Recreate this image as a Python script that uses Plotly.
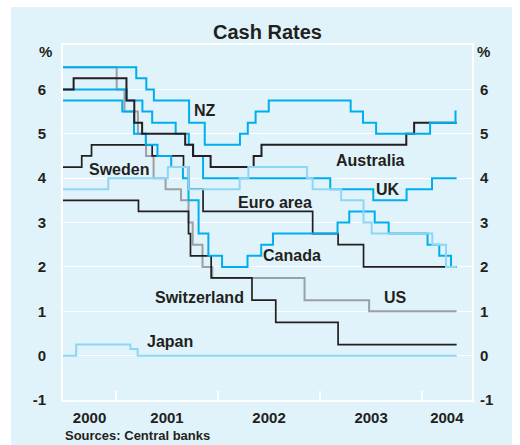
import plotly.graph_objects as go

START = "2000-06-25"
END = "2004-05-03"

# ---- data (policy cash rates, % ; step changes) ----
aus_dates = [START, "2000-08-02", "2001-02-07", "2001-03-07", "2001-04-04", "2001-09-05",
             "2001-10-03", "2001-12-05", "2002-05-08", "2002-06-05", "2003-11-05", "2003-12-03", END]
aus_vals = [6.0, 6.25, 5.75, 5.25, 5.0, 4.75, 4.5, 4.25, 4.5, 4.75, 5.0, 5.25, 5.25]

nz_dates = [START, "2001-03-14", "2001-04-19", "2001-05-16", "2001-09-19", "2001-11-14",
            "2002-03-20", "2002-04-17", "2002-05-15", "2002-07-01", "2003-04-20", "2003-06-03",
            "2003-07-20", "2004-01-29", "2004-04-29", END]
nz_vals = [6.5, 6.25, 6.0, 5.75, 5.25, 4.75, 5.0, 5.25, 5.5, 5.75, 5.5, 5.25, 5.0, 5.25, 5.5, 5.5]

uk_dates = [START, "2001-02-08", "2001-04-05", "2001-05-10", "2001-08-02", "2001-09-18",
            "2001-10-04", "2001-11-08", "2003-02-06", "2003-07-10", "2003-11-06", "2004-02-05", END]
uk_vals = [6.0, 5.75, 5.5, 5.25, 5.0, 4.75, 4.5, 4.0, 3.75, 3.5, 3.75, 4.0, 4.0]

can_dates = [START, "2001-01-23", "2001-03-06", "2001-04-17", "2001-05-29", "2001-07-17",
             "2001-08-28", "2001-09-17", "2001-10-23", "2001-11-27", "2002-01-15", "2002-04-16",
             "2002-06-04", "2002-07-16", "2003-03-04", "2003-04-15", "2003-07-15", "2003-09-03",
             "2004-01-20", "2004-03-02", "2004-04-13", END]
can_vals = [5.75, 5.5, 5.0, 4.75, 4.5, 4.25, 4.0, 3.5, 2.75, 2.25, 2.0, 2.25, 2.5, 2.75,
            3.0, 3.25, 3.0, 2.75, 2.5, 2.25, 2.0, 2.0]

us_dates = [START, "2001-01-03", "2001-01-31", "2001-03-20", "2001-04-18", "2001-05-15",
            "2001-06-27", "2001-08-21", "2001-09-17", "2001-10-02", "2001-11-06", "2001-12-11",
            "2002-11-06", "2003-06-25", END]
us_vals = [6.5, 6.0, 5.5, 5.0, 4.5, 4.0, 3.75, 3.5, 3.0, 2.5, 2.0, 1.75, 1.25, 1.0, 1.0]

euro_dates = [START, "2000-08-31", "2000-10-05", "2001-05-10", "2001-08-30", "2001-09-17",
              "2001-11-08", "2002-12-05", "2003-03-06", "2003-06-05", END]
euro_vals = [4.25, 4.5, 4.75, 4.5, 4.25, 3.75, 3.25, 2.75, 2.5, 2.0, 2.0]

swi_dates = [START, "2001-03-22", "2001-09-17", "2001-09-24", "2001-12-07", "2002-05-02",
             "2002-07-26", "2003-03-06", END]
swi_vals = [3.5, 3.25, 2.75, 2.25, 1.75, 1.25, 0.75, 0.25, 0.25]

swe_dates = [START, "2000-12-04", "2001-07-05", "2001-09-17", "2002-03-19", "2002-04-19",
             "2002-11-15", "2002-12-05", "2003-03-17", "2003-06-05", "2003-07-04",
             "2004-02-06", "2004-03-26", END]
swe_vals = [3.75, 4.0, 4.25, 3.75, 4.0, 4.25, 4.0, 3.75, 3.5, 3.0, 2.75, 2.5, 2.0, 2.0]

jap_dates = [START, "2000-08-11", "2001-02-21", "2001-03-19", END]
jap_vals = [0.0, 0.25, 0.15, 0.0, 0.0]

year_label_pos = ["2000-09-28", "2001-07-02", "2002-07-02", "2003-07-02", "2004-03-29"]
year_labels = ["2000", "2001", "2002", "2003", "2004"]
year_bounds = ["2001-01-01", "2002-01-01", "2003-01-01", "2004-01-01"]
y_ticks = [-1, 0, 1, 2, 3, 4, 5, 6]
y_ticktext = ["-1", "0", "1", "2", "3", "4", "5", "6"]

# ---- styling ----
BLUE = "#00AEEF"
LBLUE = "#8ED6F5"
GREY = "#9AA0A6"
BLACK = "#231F20"
BG = "#E1F3FA"
FONT = "Liberation Sans, Arial, Helvetica, sans-serif"

series = [
    ("US", us_dates, us_vals, GREY, 2.0),
    ("Switzerland", swi_dates, swi_vals, BLACK, 1.7),
    ("Euro area", euro_dates, euro_vals, BLACK, 1.7),
    ("Canada", can_dates, can_vals, BLUE, 2.0),
    ("UK", uk_dates, uk_vals, BLUE, 2.0),
    ("Australia", aus_dates, aus_vals, BLACK, 2.0),
    ("NZ", nz_dates, nz_vals, BLUE, 2.0),
    ("Sweden", swe_dates, swe_vals, LBLUE, 2.0),
    ("Japan", jap_dates, jap_vals, LBLUE, 2.0),
]

fig = go.Figure()
for name, d, v, c, w in series:
    fig.add_trace(go.Scatter(x=d, y=v, mode="lines", name=name,
                             line=dict(color=c, width=w, shape="hv"),
                             showlegend=False, hoverinfo="skip"))
# invisible trace for right axis
fig.add_trace(go.Scatter(x=[START], y=[0], yaxis="y2", mode="markers",
                         marker=dict(opacity=0), showlegend=False, hoverinfo="skip"))

labels = [
    ("NZ", "2001-11-15", 5.52),
    ("Australia", "2003-07-01", 4.40),
    ("Sweden", "2001-01-10", 4.20),
    ("UK", "2003-08-31", 3.74),
    ("Euro area", "2002-07-24", 3.46),
    ("Canada", "2002-09-23", 2.25),
    ("Switzerland", "2001-10-27", 1.31),
    ("US", "2003-09-29", 1.30),
    ("Japan", "2001-07-13", 0.32),
]
for t, x, y in labels:
    fig.add_annotation(x=x, y=y, xref="x", yref="y", text=t, showarrow=False,
                       font=dict(family=FONT, size=16, color=BLACK, weight="bold"))

for xp in (-0.042, 1.029):
    fig.add_annotation(x=xp, y=0.983, xref="paper", yref="paper", text="%", showarrow=False,
                       xanchor="center", yanchor="middle",
                       font=dict(family=FONT, size=15, color=BLACK, weight="bold"))

fig.add_annotation(x=0, y=-0.101, xref="paper", yref="paper", xanchor="left", yanchor="middle",
                   text="Sources: Central banks", showarrow=False,
                   font=dict(family=FONT, size=13, color=BLACK, weight="bold"))

# panel background
fig.add_shape(type="rect", xref="paper", yref="paper", x0=-0.127, x1=1.098, y0=-0.15, y1=1.107,
              fillcolor=BG, line=dict(width=0), layer="below")

fig.update_layout(
    width=520, height=445,
    margin=dict(l=63, r=48, t=45, b=45),
    paper_bgcolor="white",
    plot_bgcolor=BG,
    title=dict(text="Cash Rates", x=267.5 / 520, xanchor="center",
               y=1 - 31.7 / 445, yanchor="middle", yref="container",
               font=dict(family=FONT, size=20, color=BLACK, weight="bold")),
    xaxis=dict(type="date", range=[START, "2004-06-27"],
               tickmode="array", tickvals=year_label_pos, ticktext=year_labels,
               ticks="", showgrid=False, zeroline=False, ticklabelstandoff=3,
               showline=True, linecolor="white", linewidth=2, mirror=True,
               tickfont=dict(family=FONT, size=15, color=BLACK, weight="bold"),
               minor=dict(tickmode="array", tickvals=year_bounds, ticks="inside",
                          ticklen=9, tickwidth=2, tickcolor="white", showgrid=False)),
    yaxis=dict(range=[-1, 7], tickmode="array", tickvals=y_ticks, ticktext=y_ticktext,
               showgrid=True, gridcolor="white", gridwidth=1.3, zeroline=False,
               showline=True, linecolor="white", linewidth=2, mirror=True,
               ticks="outside", ticklen=12, tickcolor="rgba(0,0,0,0)",
               tickfont=dict(family=FONT, size=15, color=BLACK, weight="bold")),
    yaxis2=dict(range=[-1, 7], overlaying="y", side="right", tickmode="array",
                tickvals=y_ticks, ticktext=y_ticktext, showgrid=False, zeroline=False,
                showline=False, ticks="outside", ticklen=4, tickcolor="rgba(0,0,0,0)",
                tickfont=dict(family=FONT, size=15, color=BLACK, weight="bold")),
)

fig.write_html("out.html", config={"displayModeBar": False},
               post_script="document.body.style.margin='0';")
